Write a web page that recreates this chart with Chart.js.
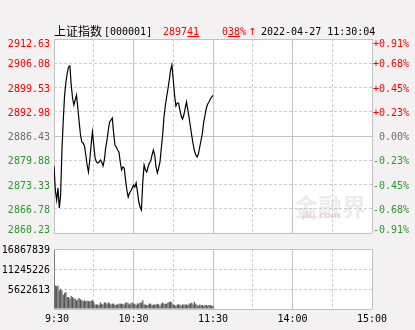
<!DOCTYPE html>
<html>
<head>
<meta charset="utf-8">
<script src="https://cdn.jsdelivr.net/npm/chart.js@4/dist/chart.umd.min.js"></script>
<style>
html, body { margin: 0; padding: 0; background: #f3f1f1; }
#wrap { position: relative; width: 415px; height: 330px; overflow: hidden; font-family: "DejaVu Sans Mono", monospace; font-size: 10px; }
#priceChart { position: absolute; left: 0; top: 0; }
#volChart { position: absolute; left: 0; top: 240px; }
.hd { position: absolute; top: 25px; line-height: 13px; white-space: nowrap; color: #000; }
.red { color: #ff0000; }
.wm { position: absolute; white-space: nowrap; pointer-events: none; }
</style>
</head>
<body>
<div id="wrap">
  <canvas id="priceChart" width="415" height="250"></canvas>
  <canvas id="volChart" width="415" height="90"></canvas>
  <span class="hd" style="left:54px;font-family:'Noto Sans CJK SC';font-size:12px;top:24px;">上证指数</span>
  <span class="hd" style="left:104px;">[000001]</span>
  <span class="hd red" style="left:163px;">2897<u>41</u></span>
  <span class="hd red" style="left:222px;">0<u>38</u>%</span>
  <span class="hd red" style="left:248px;font-family:'DejaVu Sans';">↑</span>
  <span class="hd" style="left:261px;">2022-04-27 11:30:04</span>
  <span class="wm" style="left:294px;top:188px;font-family:'Noto Sans CJK SC';font-weight:bold;font-size:24px;color:rgba(170,170,170,0.22);">金融界</span>
  <span class="wm" style="left:302px;top:210px;font-family:'DejaVu Sans';font-weight:bold;font-size:9px;color:rgba(230,120,120,0.25);">JRJ.com</span>
</div>
<script>
// minute-by-minute data, 9:30 -> 11:30 (x = trading minutes since open)
const prices = [
  2878.33, 2871.84, 2869.14, 2872.39, 2866.98, 2870.49, 2882.65, 2890.75, 2897.50, 2901.02,
  2903.45, 2905.07, 2905.34, 2900.21, 2896.69, 2894.80, 2896.15, 2897.50, 2893.99, 2890.21,
  2886.70, 2884.81, 2884.54, 2883.73, 2881.30, 2878.60, 2876.71, 2879.95, 2884.00, 2887.51,
  2884.00, 2880.49, 2879.41, 2879.14, 2879.41, 2879.95, 2879.41, 2878.33, 2879.95, 2883.19,
  2885.35, 2888.05, 2890.21, 2890.75, 2891.29, 2887.24, 2884.00, 2883.46, 2882.65, 2882.11,
  2879.41, 2877.25, 2878.06, 2877.79, 2874.55, 2871.84, 2869.95, 2871.03, 2871.57, 2872.39,
  2873.19, 2872.65, 2873.74, 2871.30, 2868.60, 2867.25, 2866.44, 2874.01, 2878.60, 2877.25,
  2876.71, 2878.06, 2879.14, 2879.68, 2881.30, 2882.65, 2881.30, 2878.06, 2876.44, 2877.79,
  2879.41, 2883.19, 2886.70, 2891.56, 2894.53, 2896.96, 2899.12, 2901.56, 2904.26, 2905.61,
  2901.56, 2897.50, 2894.53, 2895.34, 2895.34, 2893.45, 2891.83, 2891.02, 2892.10, 2893.99,
  2895.61, 2893.45, 2891.29, 2888.86, 2886.43, 2884.27, 2882.38, 2881.30, 2880.76, 2881.57,
  2883.46, 2885.35, 2887.24, 2890.21, 2892.10, 2893.99, 2895.07, 2895.61, 2896.42, 2896.96,
  2897.41
];
const volumes = [
  16500000, 6580000, 6400000, 6580000, 5210000, 5670000, 5210000, 4020000, 4480000, 4750000,
  3380000, 3380000, 2930000, 3660000, 3380000, 2930000, 2930000, 2470000, 2650000, 3110000,
  2740000, 2470000, 2190000, 2470000, 2190000, 2290000, 2190000, 2190000, 2290000, 2470000,
  2010000, 1280000, 1280000, 1280000, 1100000, 1830000, 1460000, 1280000, 1830000, 1830000,
  1460000, 1830000, 1650000, 1280000, 1460000, 1550000, 1100000, 1280000, 1280000, 1460000,
  1550000, 1460000, 1460000, 1280000, 1830000, 1830000, 1650000, 1280000, 1650000, 1830000,
  1550000, 1460000, 1100000, 1550000, 1550000, 1830000, 1830000, 2470000, 1280000, 1280000,
  1100000, 1100000, 1550000, 1460000, 1100000, 1280000, 1280000, 1280000, 1460000, 1370000,
  910000, 1550000, 1830000, 1460000, 1460000, 1460000, 1830000, 2010000, 2010000, 1830000,
  1280000, 1100000, 910000, 1280000, 1280000, 1280000, 910000, 1280000, 1280000, 1280000,
  1280000, 1100000, 1550000, 1550000, 1830000, 1280000, 2010000, 1460000, 1100000, 910000,
  1280000, 1100000, 1100000, 910000, 1100000, 1100000, 910000, 1100000, 1100000, 910000,
  910000
];

// axis ticks
const priceTicks = [2860.23, 2866.78, 2873.33, 2879.88, 2886.43, 2892.98, 2899.53, 2906.08, 2912.63];
const pctTicks   = ['-0.91%', '-0.68%', '-0.45%', '-0.23%', '0.00%', '+0.23%', '+0.45%', '+0.68%', '+0.91%'];
const volTicks   = [0, 5622613, 11245226, 16867839];
const hourTicks  = [0, 60, 120, 180, 240];
const halfTicks  = [30, 90, 150, 210];
const timeLabels = [' 9:30', '10:30', '11:30', '14:00', '15:00'];

const GRID_SOLID = '#c2c2c2';
const GRID_DASH  = '#cccccc';
const RED = '#ff0000', GREEN = '#2a9a2a', GREY = '#6e6e6e';
const tickFont  = { family: '"DejaVu Sans Mono", monospace', size: 10, lineHeight: 1 };
const levelFont = { family: '"DejaVu Sans Mono", monospace', size: 10, lineHeight: 0.8 };

const fixTicks = vals => s => { s.ticks = vals.map(v => ({ value: v })); };
const levelColor = i => i < 4 ? GREEN : (i === 4 ? GREY : RED);
// keep first/last label inside the plot like the original
const edgeLabel = (txt, i, n) => i === n - 1 ? ['', txt] : (i === 0 ? [txt, ''] : txt);

// white plot background
const plotBg = {
  id: 'plotBg',
  beforeDraw(chart) {
    const a = chart.chartArea, ctx = chart.ctx;
    ctx.save();
    ctx.fillStyle = '#ffffff';
    ctx.fillRect(a.left, a.top, a.right - a.left, a.bottom - a.top);
    ctx.restore();
  }
};

function timeAxes(showLabels) {
  return {
    x: {
      type: 'linear', min: 0, max: 240, offset: false,
      afterBuildTicks: fixTicks(hourTicks),
      afterFit: s => { s.height = showLabels ? 21 : 17; },
      grid: { color: GRID_SOLID, drawTicks: false, offset: false },
      border: { display: false },
      ticks: {
        display: showLabels, font: tickFont, color: '#000', padding: 5, maxRotation: 0, autoSkip: false,
        callback: (v, i) => timeLabels[i]
      }
    },
    xd: {
      type: 'linear', axis: 'x', position: 'bottom', min: 0, max: 240, offset: false,
      afterBuildTicks: fixTicks(halfTicks),
      afterFit: s => { s.height = 0; },
      grid: { color: GRID_DASH, drawTicks: false, offset: false },
      border: { display: false, dash: [3, 2] },
      ticks: { display: false }
    }
  };
}

new Chart(document.getElementById('priceChart'), {
  type: 'line',
  data: {
    datasets: [{
      data: prices.map((p, i) => ({ x: i, y: p })),
      borderColor: '#000000',
      borderWidth: 1.2,
      pointRadius: 0,
      tension: 0,
      fill: false
    }]
  },
  options: {
    responsive: false,
    animation: false,
    events: [],
    layout: { padding: { top: 39, bottom: 0, left: 0, right: 6 } },
    plugins: { legend: { display: false }, tooltip: { enabled: false } },
    scales: Object.assign(timeAxes(false), {
      y: {
        position: 'left', min: priceTicks[0], max: priceTicks[priceTicks.length - 1],
        afterBuildTicks: fixTicks(priceTicks),
        afterFit: s => { s.width = 54; },
        grid: { color: c => [0, 4, 8].includes(c.index) ? GRID_SOLID : 'rgba(0,0,0,0)', drawTicks: false },
        border: { display: false },
        ticks: {
          font: levelFont, padding: 4, labelOffset: 1.5, autoSkip: false,
          color: c => levelColor(c.index),
          callback: (v, i) => edgeLabel(priceTicks[i].toFixed(2), i, priceTicks.length)
        }
      },
      yd: {
        axis: 'y', position: 'left', min: priceTicks[0], max: priceTicks[priceTicks.length - 1],
        afterBuildTicks: fixTicks(priceTicks.filter((v, i) => ![0, 4, 8].includes(i))),
        afterFit: s => { s.width = 0; },
        grid: { color: GRID_DASH, drawTicks: false },
        border: { display: false, dash: [3, 2] },
        ticks: { display: false }
      },
      y2: {
        axis: 'y', position: 'right', min: priceTicks[0], max: priceTicks[priceTicks.length - 1],
        afterBuildTicks: fixTicks(priceTicks),
        afterFit: s => { s.width = 37; },
        grid: { display: false, drawTicks: false },
        border: { display: false },
        ticks: {
          font: levelFont, padding: 1, labelOffset: 1.5, autoSkip: false, crossAlign: 'far',
          color: c => levelColor(c.index),
          callback: (v, i) => edgeLabel(pctTicks[i], i, pctTicks.length)
        }
      }
    })
  },
  plugins: [plotBg]
});

new Chart(document.getElementById('volChart'), {
  type: 'bar',
  data: {
    datasets: [{
      data: volumes.map((v, i) => ({ x: i, y: v })),
      backgroundColor: '#555555',
      borderWidth: 0,
      barPercentage: 0.9,
      categoryPercentage: 1
    }]
  },
  options: {
    responsive: false,
    animation: false,
    events: [],
    layout: { padding: { top: 7.5, bottom: 0, left: 0, right: 43 } },
    plugins: { legend: { display: false }, tooltip: { enabled: false } },
    scales: Object.assign(timeAxes(true), {
      y: {
        position: 'left', min: 0, max: volTicks[volTicks.length - 1],
        afterBuildTicks: fixTicks(volTicks),
        afterFit: s => { s.width = 54; },
        grid: { color: c => (c.index === 0 || c.index === volTicks.length - 1) ? GRID_SOLID : 'rgba(0,0,0,0)', drawTicks: false },
        border: { display: false },
        ticks: {
          font: tickFont, padding: 4, labelOffset: 1.5, autoSkip: false, color: '#000',
          callback: (v, i) => i === 0 ? '' : String(volTicks[i])
        }
      },
      yd: {
        axis: 'y', position: 'left', min: 0, max: volTicks[volTicks.length - 1],
        afterBuildTicks: fixTicks(volTicks.slice(1, -1)),
        afterFit: s => { s.width = 0; },
        grid: { color: GRID_DASH, drawTicks: false },
        border: { display: false, dash: [3, 2] },
        ticks: { display: false }
      }
    })
  },
  plugins: [plotBg]
});
</script>
</body>
</html>
